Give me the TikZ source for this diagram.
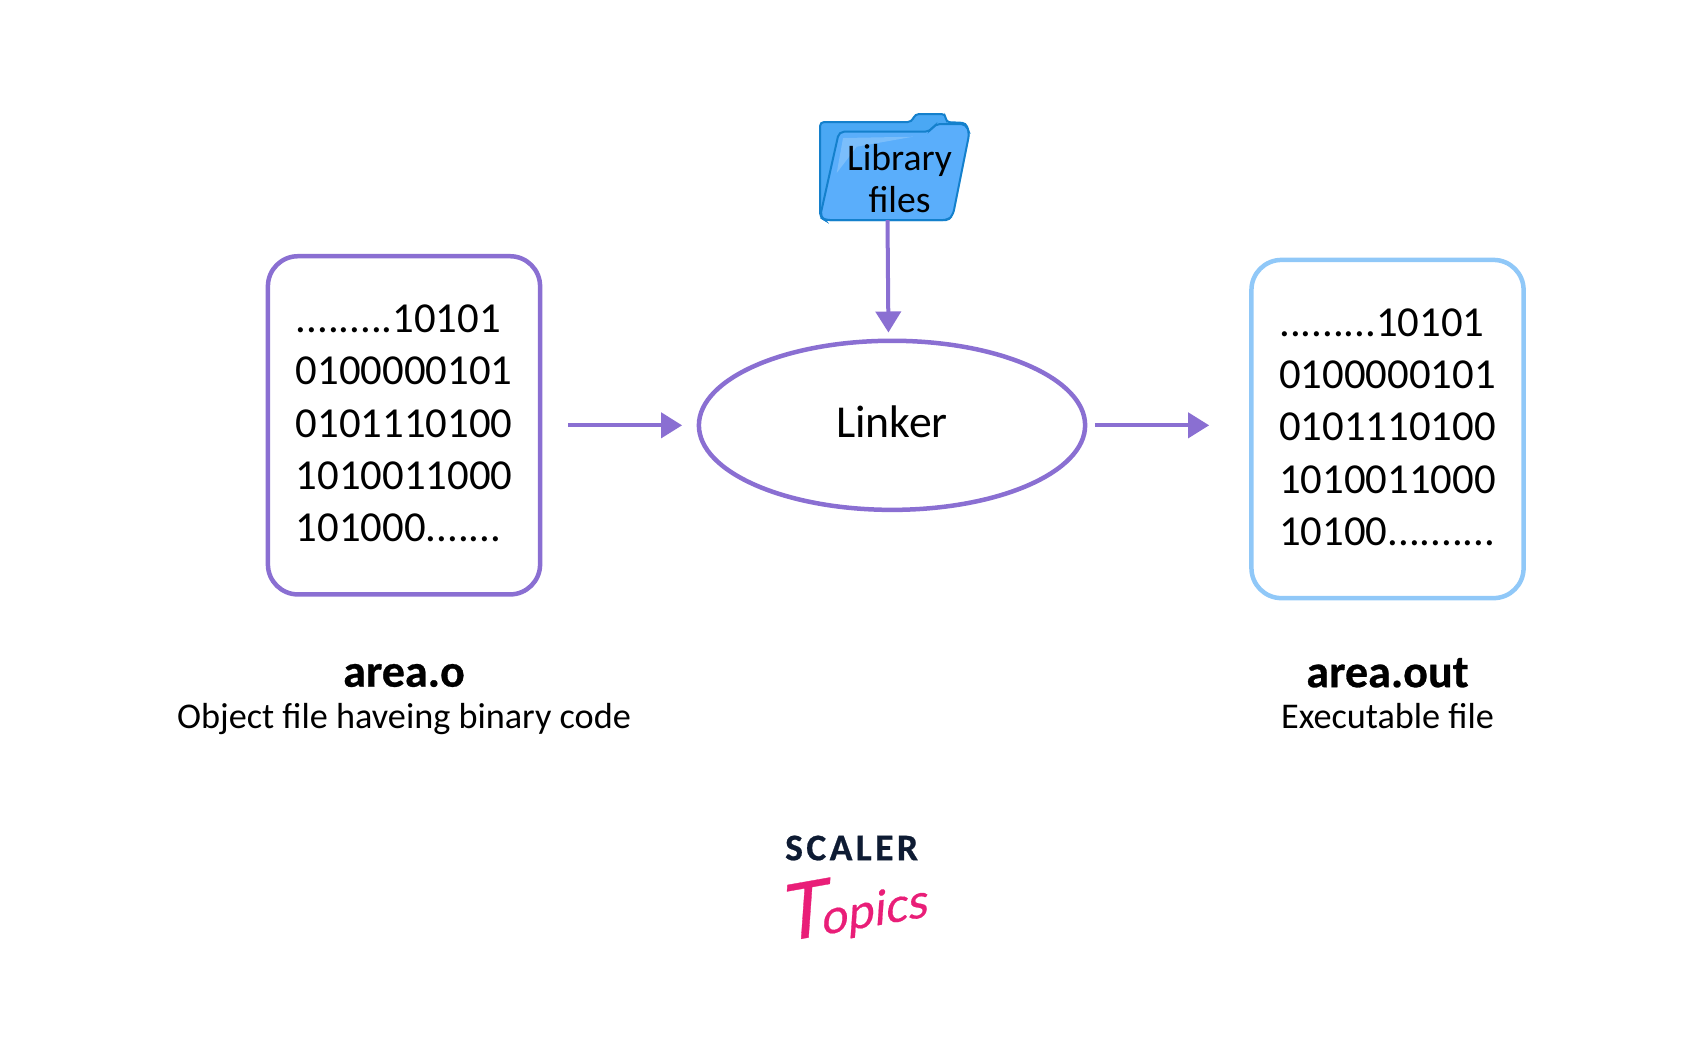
\documentclass[tikz,border=0pt]{standalone}
\usepackage{fontspec}
\usepackage{tikz}
\usetikzlibrary{positioning,arrows.meta,shapes.geometric}
\setmainfont{Carlito}
\newfontfamily\titlefont[FakeBold=0.6]{Carlito Bold}
\newfontfamily\scalerfont[LetterSpace=9,FakeBold=0.6]{Carlito Bold}
\newfontfamily\topicsfont[FakeSlant=0.25,FakeBold=0.4]{Lato}

\definecolor{purpleline}{HTML}{8A6FD2}
\definecolor{skyline}{HTML}{90C8F8}
\definecolor{folderback}{HTML}{4AA8F4}
\definecolor{folderfront}{HTML}{5AAEFB}
\definecolor{folderedge}{HTML}{1480CC}
\definecolor{scalernavy}{HTML}{0E1B33}
\definecolor{topicspink}{HTML}{E91E78}

\begin{document}
\begin{tikzpicture}[x=0.01cm, y=-0.01cm, node distance=0.12cm,
    file node/.style={draw, line width=0.045cm, rounded corners=0.3cm, minimum width=2.72cm,
      minimum height=3.38cm, inner sep=0pt, align=left, font=\fontsize{12.15}{14.85}\selectfont},
    link/.style={draw=purpleline, fill=purpleline, line width=0.04cm, -{Triangle[length=0.21cm,width=0.25cm]}},
    title node/.style={inner sep=0pt, font=\fontsize{13.1}{15}\titlefont},
    note node/.style={inner sep=0pt, font=\fontsize{10.3}{12}\selectfont}]
  \useasboundingbox (0,0) rectangle (1701,1047);

  \node[file node, draw=purpleline, text depth=0.04cm] (object) at (404,425.3)
    {.........10101\\0100000101\\0101110100\\1010011000\\101000.......};
  \node[file node, draw=skyline, text depth=0.04cm] (exec) at (1387.5,429)
    {.........10101\\0100000101\\0101110100\\1010011000\\10100..........};
  \node[draw=purpleline, line width=0.045cm, ellipse, minimum width=3.86cm, minimum height=1.69cm,
        inner sep=0pt, text depth=0.064cm, font=\fontsize{13}{15}\selectfont] (linker) at (892,425.3) {Linker};

  % folder
  \filldraw[fill=folderback, draw=folderedge, line width=0.02cm, rounded corners=0.04cm]
    (825,220) -- (820,217) -- (820,122) -- (911.7,122) -- (915,114) -- (945.7,114) -- (945.7,122) -- (966,123) -- (969,133) -- (950,220) -- cycle;
  \filldraw[fill=folderfront, draw=folderedge, line width=0.02cm, rounded corners=0.05cm]
    (825,220) -- (820,217) -- (839,131.7) -- (930,131.7) -- (935,124) -- (966,124) -- (969.3,133.3) -- (953,215) -- (948,220) -- cycle;
  \fill[white, opacity=0.2] (836.7,173) -- (843,138) -- (913,136.7) -- (856.7,146.7) -- cycle;
  \node[inner sep=0pt, align=center, font=\fontsize{10.7}{12.05}\selectfont] (library) at (899.5,178.3) {Library\\files};
  \coordinate (foldertip) at (887.5,220);
  \coordinate (linkertop) at (888.5,341);

  \node[title node, below=0.665cm of object] (objtitle) {area.o};
  \node[note node, below=0.15cm of objtitle] (objnote) {Object file haveing binary code};
  \node[title node, below=0.57cm of exec] (exectitle) {area.out};
  \node[note node, below=0.14cm of exectitle] (execnote) {Executable file};

  \path[link, shorten <=0.26cm, shorten >=0.145cm] (object) -- (linker);
  \path[link, shorten <=0.075cm, shorten >=0.40cm] (linker) -- (linker -| exec.west);
  \path[link, shorten >=0.085cm] (foldertip) -- (linkertop);

  % logo
  \node[inner sep=0pt, text=scalernavy, font=\fontsize{10.7}{12}\scalerfont] (scaler) at (851.6,848) {SCALER};
  \node[inner sep=0pt, text=topicspink, rotate=10, font=\fontsize{13.5}{20}\topicsfont] (topics) at (851,906) {{\fontsize{22}{20}\selectfont T}\kern-0.06cm opics};
\end{tikzpicture}
\end{document}
